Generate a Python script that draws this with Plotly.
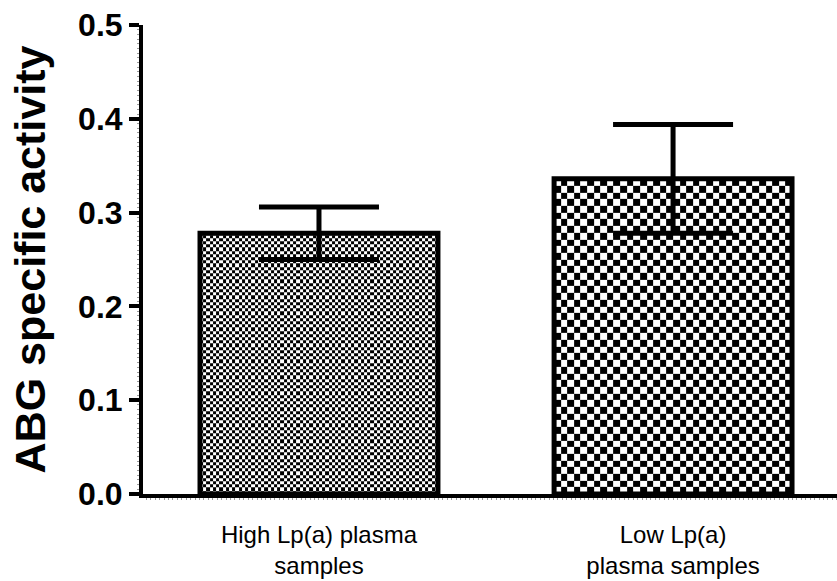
import numpy as np
import plotly.graph_objects as go

# --- data ---
categories = ["High Lp(a) plasma<br>samples", "Low Lp(a)<br>plasma samples"]
means = [0.278, 0.336]
errors = [0.028, 0.058]
y_ticks = [0.0, 0.1, 0.2, 0.3, 0.4, 0.5]

# --- layout geometry ---
W, H = 837, 581
M_L, M_R, M_T, M_B = 143, 0, 25, 87
X_RANGE = [-0.497, 1.463]
Y_RANGE = [0.0, 0.5]
BAR_W = 0.672
CHECK_PX = [3.2, 6.7]  # checker square size (px) per bar

px_per_x = (W - M_L - M_R) / (X_RANGE[1] - X_RANGE[0])
px_per_y = (H - M_T - M_B) / (Y_RANGE[1] - Y_RANGE[0])

xpos = list(range(len(categories)))

fig = go.Figure()

# checkerboard fill for each bar, laid out in data coordinates
for xc, val, cpx in zip(xpos, means, CHECK_PX):
    ncols = int(round(BAR_W * px_per_x / cpx))
    xe = np.linspace(xc - BAR_W / 2, xc + BAR_W / 2, ncols + 1)
    ystep = cpx / px_per_y
    ye = np.arange(0.0, val, ystep)
    ye = np.append(ye, val)
    nrows = len(ye) - 1
    z = (np.add.outer(np.arange(nrows), np.arange(ncols)) % 2).astype(float)
    fig.add_trace(go.Heatmap(
        x=xe, y=ye, z=z,
        colorscale=[[0, "white"], [1, "black"]],
        zmin=0, zmax=1, showscale=False, hoverinfo="skip",
    ))

# bar outlines with SD error bars
fig.add_trace(go.Bar(
    x=xpos, y=means, width=BAR_W,
    marker=dict(color="rgba(0,0,0,0)", line=dict(color="black", width=5)),
    error_y=dict(type="data", array=errors, symmetric=True,
                 color="black", thickness=5, width=60),
    showlegend=False,
))

fig.update_layout(
    width=W, height=H,
    margin=dict(l=M_L, r=M_R, t=M_T, b=M_B),
    paper_bgcolor="white", plot_bgcolor="white",
    showlegend=False,
    font=dict(family="Liberation Sans, Arial, sans-serif", color="black"),
)

fig.update_xaxes(
    range=X_RANGE,
    tickmode="array", tickvals=xpos, ticktext=categories,
    tickfont=dict(size=24),
    ticklabelstandoff=16,
    showline=True, linecolor="black", linewidth=4,
    ticks="", showgrid=False, zeroline=False,
    minor=dict(ticks="outside", dtick=0.0125, ticklen=2, tickwidth=1,
               tickcolor="#9a9a9a", showgrid=False),
)

fig.update_yaxes(
    range=Y_RANGE,
    tickmode="array", tickvals=y_ticks,
    ticktext=[f"{v:.1f}" for v in y_ticks],
    tickfont=dict(size=32, weight="bold"),
    ticks="outside", ticklen=10, tickwidth=4, tickcolor="black",
    showline=True, linecolor="black", linewidth=4,
    showgrid=False, zeroline=False,
    minor=dict(ticks="outside", dtick=0.005, ticklen=2, tickwidth=1,
               tickcolor="#9a9a9a", showgrid=False),
    title=dict(text="ABG specific activity",
               font=dict(size=43, weight="bold"), standoff=20),
)

fig.write_html("out.html")
